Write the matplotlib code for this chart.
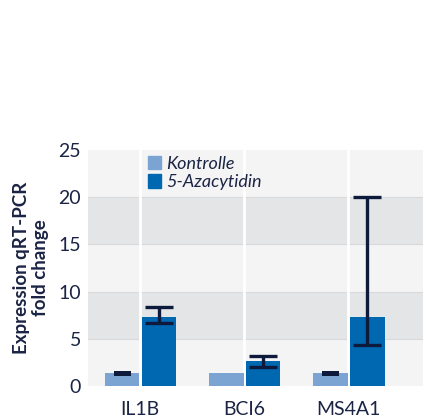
import numpy as np
from matplotlib import pyplot as plt
from matplotlib.patches import Patch

plt.rcParams['font.family'] = ['Lato', 'DejaVu Sans']

genes = ['IL1B', 'BCI6', 'MS4A1']
kontrolle = [1.4, 1.4, 1.4]
kontrolle_lo = [1.05, None, 1.05]
kontrolle_hi = [1.6, None, 1.55]
aza = [7.25, 2.65, 7.25]
aza_lo = [6.7, 2.0, 4.3]
aza_hi = [8.4, 3.2, 20.0]

c_kon = '#7ba4d3'
c_aza = '#0068b0'
c_err = '#0d1a3c'
c_txt = '#1b2444'

fig = plt.figure(figsize=(4.23, 4.19), dpi=100)
ax = fig.add_axes([0.208, 0.079, 0.792, 0.563])

x = np.arange(len(genes))
w = 0.335
ax.set_facecolor('#f4f4f4')
for lo in (5, 15):
    ax.axhspan(lo, lo + 5, color='#e4e5e7', lw=0, zorder=0)
for y in (5, 10, 15, 20):
    ax.axhline(y, color='#d8d9db', lw=0.8, zorder=0.5)
for xi in x:
    ax.axvline(xi, color='white', lw=2, zorder=0.6)

ax.bar(x - w / 2 - 0.005, kontrolle, w, color=c_kon, zorder=2, label='Kontrolle')
ax.bar(x + w / 2 + 0.015, aza, w, color=c_aza, zorder=2, label='5-Azacytidin')

# error bars
for i in range(len(genes)):
    if kontrolle_lo[i] is not None:
        ax.fill_between([x[i] - w / 2 - 0.08, x[i] - w / 2 + 0.08],
                        kontrolle_lo[i], kontrolle_hi[i], color=c_err, lw=0, zorder=3)
    xa = x[i] + w / 2 + 0.015
    ax.errorbar([xa], [(aza_lo[i] + aza_hi[i]) / 2],
                yerr=[[(aza_hi[i] - aza_lo[i]) / 2]], fmt='none',
                ecolor=c_err, elinewidth=2.4, capsize=10, capthick=2.4, zorder=3)

ax.set_xlim(-0.5, 2.72)
ax.set_ylim(0, 25)
ax.set_yticks([0, 5, 10, 15, 20, 25])
ax.set_xticks(x)
ax.set_xticklabels(genes)
ax.tick_params(length=0, labelsize=14, colors=c_txt)
ax.tick_params(axis='x', pad=11)
ax.tick_params(axis='y', pad=5)
for s in ax.spines.values():
    s.set_visible(False)

ax.set_ylabel('Expression qRT-PCR\nfold change', fontsize=13.5, fontweight='bold',
              color=c_txt, labelpad=7, linespacing=1.15)

handles = [Patch(color=c_kon), Patch(color=c_aza)]
leg = ax.legend(handles, ['Kontrolle', '5-Azacytidin'], loc='upper left',
                bbox_to_anchor=(0.13, 1.045), frameon=False, handlelength=0.75,
                handleheight=0.75, handletextpad=0.25, labelspacing=0.15,
                prop={'style': 'italic', 'size': 13})
for t in leg.get_texts():
    t.set_color(c_txt)

fig.savefig('out.png', dpi=100)
